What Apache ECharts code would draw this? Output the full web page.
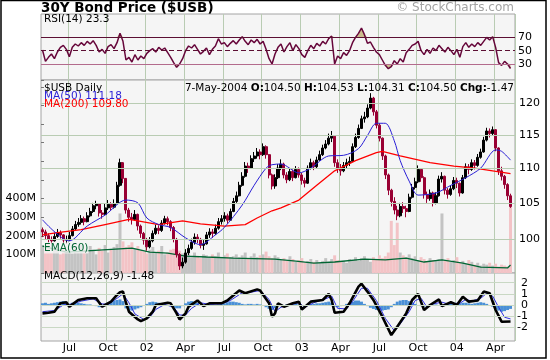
<!DOCTYPE html>
<html><head><meta charset="utf-8">
<script src="https://cdn.jsdelivr.net/npm/echarts@6/dist/echarts.min.js"></script>
<style>html,body{margin:0;padding:0;background:#fff}#c{width:550px;height:360px}</style>
</head><body><div id="c"></div>
<script>
// ---- axis / tick data ----
const firstWeekEnd = [2001, 4, 4];           // Friday 4-May-2001
const categoryCount = 159;                   // 158 weeks of data + 1 blank
const tickWeeks  = [9,22,35,48,61,74,87,100,113,126,139,152];
const tickLabels = ['Jul','Oct','02','Apr','Jul','Oct','03','Apr','Jul','Oct','04','Apr'];
const priceTicks = [100,105,110,115,120];
const rsiLevels  = [70,50,30];
const macdTicks  = [2,1,0,-1,-2];
const volumeTickMax = 400;

// ---- weekly price (close / high / low) ----
const firstOpen = 101.3;
const closes = [
101.0,100.5,100.0,99.8,100.4,100.9,100.6,99.9,100.0,100.5,
101.4,102.0,102.3,102.8,102.4,103.2,103.8,104.6,104.9,103.6,
103.4,104.3,104.8,104.4,104.9,107.5,110.8,108.5,104.0,103.0,
102.7,103.4,101.8,100.8,99.9,99.0,99.8,100.8,101.5,101.2,
102.2,102.8,102.4,101.6,100.0,98.0,96.5,97.0,98.2,98.8,
99.6,100.3,100.0,99.2,99.4,100.6,101.0,100.8,101.5,102.4,
102.8,103.2,102.6,103.8,105.2,106.0,107.5,108.8,110.3,110.0,
111.4,111.8,112.4,112.0,113.2,112.0,109.0,107.4,108.6,110.0,
110.6,109.0,108.3,109.5,108.6,109.8,109.0,108.2,107.8,110.0,
110.8,110.2,111.2,112.0,113.0,113.6,114.5,114.8,110.8,110.0,
109.6,110.4,110.8,111.0,113.2,114.6,116.0,117.5,117.8,119.2,
120.8,118.6,116.5,114.5,111.8,109.0,106.8,105.2,104.0,103.2,
104.5,104.2,103.8,105.8,107.2,108.0,109.8,108.6,106.2,105.6,
106.4,105.0,106.0,108.4,108.8,106.8,106.2,107.0,108.2,107.8,
106.4,108.6,110.2,109.8,110.8,110.4,111.6,112.4,114.2,115.6,
115.2,115.8,113.0,109.6,108.8,107.6,106.0,104.5];
const highs = [
101.6,101.3,100.8,100.4,100.9,101.4,101.2,100.7,100.5,101.0,
101.8,102.5,102.9,103.3,103.1,103.7,104.3,105.0,105.3,104.8,
104.0,104.9,105.4,105.1,105.5,108.0,111.4,110.9,108.4,104.3,
103.6,104.0,103.5,102.0,101.0,100.2,100.3,101.2,102.0,101.9,
102.6,103.2,103.1,102.6,101.8,100.2,98.2,97.6,98.7,99.3,
100.1,100.8,100.7,100.2,99.9,101.0,101.5,101.4,102.0,102.9,
103.3,103.7,103.5,104.2,105.7,106.6,108.0,109.4,110.9,110.8,
111.9,112.4,113.0,112.8,113.7,113.4,112.1,109.2,109.1,110.6,
111.3,110.8,109.4,110.0,109.8,110.3,110.1,109.3,108.6,110.4,
111.4,111.1,111.7,112.6,113.5,114.2,115.2,115.6,114.9,111.3,
110.6,110.9,111.4,111.7,113.7,115.2,116.6,118.0,118.6,119.8,
121.6,121.0,118.9,116.8,114.6,112.0,109.2,107.0,105.8,104.6,
105.0,105.1,104.6,106.3,107.7,108.6,110.4,110.0,108.8,106.6,
106.9,106.6,106.5,108.9,109.4,108.9,107.1,107.5,108.7,108.6,
107.9,109.0,110.7,110.6,111.3,111.2,112.1,112.9,114.7,116.1,
116.0,116.3,115.9,113.1,110.2,109.0,107.8,106.3];
const lows = [
100.3,100.0,99.6,99.4,99.7,100.2,100.1,99.5,99.4,99.8,
100.4,101.2,101.7,102.0,101.9,102.3,103.0,103.6,104.1,103.1,
102.8,103.3,104.0,103.9,104.2,104.8,107.3,107.8,103.5,102.4,
102.0,102.5,101.2,100.2,99.3,98.5,98.8,99.6,100.6,100.7,
101.0,102.0,101.9,101.1,99.6,97.6,96.0,96.2,96.8,97.9,
98.6,99.3,99.5,98.8,98.6,99.3,100.2,100.2,100.6,101.3,
102.0,102.4,102.1,102.5,103.7,105.0,105.9,107.3,108.6,109.3,
109.9,110.9,111.4,111.3,111.8,111.4,108.5,106.9,107.0,108.4,
109.7,108.5,107.8,108.1,108.1,108.5,108.6,107.6,107.2,107.7,
109.8,109.7,110.0,111.1,111.8,112.8,113.4,113.9,110.2,109.3,
108.9,109.4,110.0,110.3,110.9,113.0,114.4,115.9,116.9,117.6,
119.0,118.0,116.0,114.0,111.2,108.4,106.1,104.5,103.4,102.6,
103.0,103.6,103.0,103.7,105.6,106.9,107.8,108.0,105.6,105.0,
105.3,104.5,104.8,105.9,107.9,106.2,105.6,106.0,106.8,107.1,
105.9,106.3,108.4,109.1,109.6,109.8,110.2,111.4,112.3,114.0,
114.6,114.9,112.5,109.0,108.2,107.0,105.4,104.3];

// ---- moving averages [week, value] ----
const ma50 = [[0,102.65],[9,99.8],[15,101.8],[21,103.3],[28,105.4],[32,105.0],[35,102.9],[39,102.0],[43,101.6],[48,100.2],[53,99.3],[58,100.6],[61,101.6],[67,104.7],[71,107.5],[75,110.0],[77,110.5],[80,110.6],[86,109.3],[90,110.0],[96,111.8],[101,111.9],[106,112.9],[109,114.9],[112,116.8],[115,116.8],[118,114.1],[120,111.1],[123,108.1],[126,106.1],[132,106.4],[137,107.5],[142,108.6],[147,110.0],[152,112.7],[154,112.5],[157,111.18]];
const ma200 = [[0,100.6],[5,100.9],[13,101.3],[21,102.0],[29,102.7],[32,102.5],[39,102.0],[47,102.5],[53,102.1],[61,101.8],[68,102.0],[72,102.9],[77,103.9],[80,104.3],[86,105.4],[92,107.5],[98,109.6],[105,111.1],[112,112.3],[114,112.5],[120,111.8],[130,110.8],[138,110.3],[145,110.0],[151,109.6],[157,109.2]];

// ---- volume (millions) ----
const volumes = [
150,125,160,110,140,120,100,135,115,
130,105,140,115,150,120,110,145,125,100,135,
120,150,110,130,140,155,320,
170,140,150,165,130,145,120,
115,105,125,140,110,120,145,100,
110,125,130,140,120,105,95,
100,85,110,90,80,100,95,
85,100,90,110,80,95,105,85,90,
100,85,95,110,80,90,105,85,95,100,115,90,80,95,
85,70,80,65,90,75,60,70,80,55,65,75,60,
70,55,65,80,60,75,95,70,60,65,55,75,70,85,
65,80,90,70,60,85,75,95,80,90,110,280,150,270,
110,95,85,100,80,90,70,85,75,65,80,70,
70,75,320,65,80,
60,70,85,55,65,50,70,60,45,55,40,
50,45,55,40,50,35,45,40,35,360];
const volumeEma = [[0,144],[8,112],[19,123],[30,134],[36,112],[42,107],[48,91],[55,86],[64,80],[78,75],[85,64],[91,53],[98,59],[108,75],[115,70],[122,80],[128,59],[134,70],[141,53],[147,32],[156,27],[157,43]];

// ---- RSI(14) weekly ----
const rsi = [
51,34,40,45,38,48,55,58,52,41,
55,60,57,62,58,64,60,65,58,48,
52,46,56,59,53,62,76,64,36,40,
33,44,36,42,38,46,50,53,48,55,
51,54,47,40,32,25,30,38,50,57,
54,59,52,45,49,54,44,52,57,68,
60,62,56,61,65,60,66,71,64,59,
66,62,67,60,64,52,38,30,45,55,
60,48,56,62,50,59,53,44,40,50,
58,53,61,57,64,60,68,72,30,42,
38,47,43,50,62,70,76,84,74,61,
63,55,48,44,36,28,23,26,35,30,
38,33,47,52,58,60,64,50,44,52,
46,54,50,58,53,48,55,50,44,52,
40,56,62,55,60,56,62,58,64,70,
66,71,55,32,28,34,30,23.3];

// ---- MACD(12,26,9) ----
const macd = [[0,-0.75],[2,-0.7],[4,-0.6],[6,0.15],[8,0.25],[9,-0.15],[12,0.45],[15,0.6],[18,0.6],[20,-0.15],[21,0],[23,0.3],[25,0.9],[26,1.15],[27,1.2],[28,0.2],[29,-0.6],[32,-1.3],[33,-1.45],[35,-1.2],[37,-0.6],[38,0],[42,0.2],[43,0.15],[45,-0.75],[46,-1.3],[48,-0.75],[49,-0.15],[52,0.4],[54,-0.1],[56,0.15],[60,0.15],[62,0.4],[66,1.3],[68,1.05],[72,1.4],[73,1.3],[76,0.15],[77,-1.05],[78,-0.75],[79,0.15],[81,-0.15],[84,0.15],[86,0.3],[87,-0.4],[90,0.3],[94,0.45],[96,1.0],[97,0.45],[98,-0.7],[101,-0.6],[103,0.15],[106,1.65],[107,1.9],[109,1.2],[111,0.45],[114,-1.05],[117,-2.7],[119,-1.95],[122,-0.75],[124,0.45],[126,1.0],[128,-0.45],[130,0],[133,0.5],[134,-0.1],[137,0.25],[139,0],[141,0.75],[143,0.3],[146,0.4],[148,1.2],[150,1.05],[152,-0.45],[154,-1.5],[157,-1.48]];
const signal = [[0,-0.6],[4,-0.5],[7,0.0],[10,0.1],[13,0.35],[17,0.55],[20,0.1],[22,0.05],[25,0.6],[27,1.0],[29,0.2],[31,-0.8],[34,-1.3],[36,-1.1],[38,-0.4],[41,0.05],[44,-0.2],[46,-0.9],[48,-0.9],[50,-0.3],[53,0.2],[56,0.05],[60,0.1],[63,0.4],[67,1.1],[70,1.15],[73,1.3],[76,0.5],[78,-0.6],[80,-0.2],[83,0.0],[86,0.2],[88,-0.2],[91,0.2],[95,0.55],[97,0.8],[99,-0.3],[102,-0.35],[104,0.3],[107,1.5],[109,1.5],[112,0.4],[115,-1.2],[118,-2.3],[120,-1.7],[123,-0.6],[125,0.4],[127,0.6],[129,-0.2],[131,0.1],[134,0.25],[136,0.1],[138,0.15],[140,0.15],[142,0.5],[144,0.35],[147,0.6],[149,1.05],[151,0.8],[153,-0.2],[155,-1.1],[157,-1.25]];
const histogram = [
0.15,0.2,0.1,0.15,0.2,0.25,0.3,0.35,0.2,-0.1,
0.2,0.25,0.2,0.15,0.1,0.05,0.05,0.0,
-0.1,-0.2,-0.05,0.1,0.2,0.3,0.4,0.45,0.5,0.35,
-0.3,-0.45,-0.5,-0.4,-0.3,-0.2,
-0.05,0.1,0.25,0.3,0.25,0.2,0.1,0.05,
0.0,-0.05,-0.2,-0.3,-0.3,-0.1,0.15,0.3,0.35,0.3,0.2,
0.0,-0.1,0.0,0.05,0.05,0.0,
0.05,0.1,0.15,0.25,0.3,0.3,0.25,0.2,
0.1,0.05,0.1,0.1,0.05,0.1,0.05,-0.05,
-0.2,-0.35,-0.45,-0.3,-0.1,
0.05,0.0,0.05,0.1,0.05,0.1,0.05,-0.1,-0.05,0.05,0.1,0.1,0.15,0.15,
0.2,0.25,0.3,0.2,-0.15,-0.2,-0.1,0.0,0.1,
0.2,0.3,0.4,0.4,0.3,0.1,
-0.1,-0.25,-0.35,-0.45,-0.5,-0.5,-0.45,-0.4,-0.2,
0.1,0.3,0.4,0.45,0.45,0.35,0.25,
0.1,0.0,-0.1,-0.15,-0.05,0.0,0.05,
0.05,0.0,-0.05,0.05,0.1,0.15,0.15,0.1,
0.15,0.2,0.2,0.15,0.1,0.15,0.2,0.25,0.2,0.1,
-0.05,-0.15,-0.35,-0.5,-0.6,-0.55,-0.45,-0.35];

// ---- build ----
const FONT = '"DejaVu Sans", Verdana, sans-serif';
const GRID_GREEN = '#b9ccb3';
const categories = [];
for (let i = 0; i < categoryCount; i++) {
  const d = new Date(firstWeekEnd[0], firstWeekEnd[1], firstWeekEnd[2] + 7 * i);
  categories.push(d.toISOString().slice(0, 10));
}
const tickSet = new Set(tickWeeks);
const candles = closes.map((c, i) => [i === 0 ? firstOpen : closes[i - 1], c, lows[i], highs[i]]);
const volumeBars = volumes.map((v, i) => ({
  value: v,
  itemStyle: { color: (i > 0 && closes[i] < closes[i - 1]) ? '#f3c3c6' : '#c3c3c3' }
}));

function xAxisFor(i) {
  return {
    type: 'category', gridIndex: i, data: categories, boundaryGap: true,
    axisLine: { show: false }, axisTick: { show: false },
    axisLabel: {
      show: i === 2, interval: (idx) => tickSet.has(idx),
      formatter: (v, idx) => tickLabels[tickWeeks.indexOf(idx)] || '',
      color: '#000', fontSize: 11, fontFamily: FONT, margin: 2
    },
    splitLine: { show: true, interval: (idx) => tickSet.has(idx), lineStyle: { color: GRID_GREEN, width: 1 } }
  };
}
function levelMarks(items, lineStyle, labelExtra) {
  return {
    silent: true, symbol: ['none', 'none'], animation: false,
    lineStyle: Object.assign({ color: GRID_GREEN, width: 1, type: 'solid' }, lineStyle || {}),
    label: Object.assign({ position: 'end', distance: 4, color: '#000', fontSize: 11, fontFamily: FONT,
      formatter: p => String(p.value) }, labelExtra || {}),
    emphasis: { disabled: true },
    data: items
  };
}
const gridBase = { left: 41, width: 474, show: true, backgroundColor: '#f5f5f5', borderColor: '#a4a4a4', borderWidth: 1 };

const option = {
  animation: false,
  backgroundColor: '#fff',
  grid: [
    Object.assign({ top: 14, height: 66 }, gridBase),
    Object.assign({ top: 80, height: 193 }, gridBase),
    Object.assign({ top: 273, height: 68 }, gridBase)
  ],
  xAxis: [xAxisFor(0), xAxisFor(1), xAxisFor(2)],
  yAxis: [
    { type: 'value', gridIndex: 0, min: 6, max: 105, show: false },
    { type: 'log', gridIndex: 1, min: 95.6, max: 123.76, logBase: 10, show: false },
    { type: 'value', gridIndex: 1, min: 0, max: 1037, interval: 100, position: 'left',
      axisLine: { show: false }, splitLine: { show: false },
      axisTick: { show: true, inside: true, length: 3, lineStyle: { color: '#777' } },
      axisLabel: { formatter: v => (v > 0 && v <= volumeTickMax) ? v + 'M' : '', color: '#000', fontSize: 11, fontFamily: FONT, margin: 5 } },
    { type: 'value', gridIndex: 2, min: -3.23, max: 2.87, show: false }
  ],
  series: [
    // RSI panel
    { type: 'line', xAxisIndex: 0, yAxisIndex: 0, data: [], z: 1,
      markLine: levelMarks(rsiLevels.map(v => ({ yAxis: v, lineStyle: {
        color: v === 30 ? '#b36b8c' : '#5c0f33', width: 1, type: v === 50 ? [5, 3] : 'solid' } })), {}, { distance: 3 }) },
    { type: 'line', xAxisIndex: 0, yAxisIndex: 0, data: rsi.map(v => Math.max(v, 70)), showSymbol: false, z: 2,
      lineStyle: { width: 0 }, areaStyle: { origin: 70, color: '#cbbd8e', opacity: 1 } },
    { type: 'line', xAxisIndex: 0, yAxisIndex: 0, data: rsi.map(v => Math.min(v, 30)), showSymbol: false, z: 2,
      lineStyle: { width: 0 }, areaStyle: { origin: 30, color: '#cbbd8e', opacity: 1 } },
    { type: 'line', xAxisIndex: 0, yAxisIndex: 0, data: rsi, showSymbol: false, z: 3,
      lineStyle: { color: '#66063a', width: 1.5 } },
    // price panel
    { type: 'line', xAxisIndex: 1, yAxisIndex: 1, data: [], z: 1,
      markLine: levelMarks(priceTicks.map(v => ({ yAxis: v })), {}, {}) },
    { type: 'bar', xAxisIndex: 1, yAxisIndex: 2, data: volumeBars, barCategoryGap: '0%', z: 1.5 },
    { type: 'line', xAxisIndex: 1, yAxisIndex: 2, data: volumeEma, showSymbol: false, z: 2,
      lineStyle: { color: '#006633', width: 1.3 } },
    { type: 'candlestick', xAxisIndex: 1, yAxisIndex: 1, data: candles, barWidth: '85%', z: 3,
      itemStyle: { color: '#000000', color0: '#990033', borderColor: '#000000', borderColor0: '#990033', borderWidth: 1 } },
    { type: 'line', xAxisIndex: 1, yAxisIndex: 1, data: ma200, showSymbol: false, z: 4,
      lineStyle: { color: '#ff0000', width: 1.3 } },
    { type: 'line', xAxisIndex: 1, yAxisIndex: 1, data: ma50, showSymbol: false, z: 4, smooth: 0.3,
      lineStyle: { color: '#2a1fd6', width: 1 } },
    // MACD panel
    { type: 'line', xAxisIndex: 2, yAxisIndex: 3, data: [], z: 1,
      markLine: levelMarks(macdTicks.map(v => ({ yAxis: v })), { color: '#c9d8c4' }, { align: 'right', distance: 13 }) },
    { type: 'bar', xAxisIndex: 2, yAxisIndex: 3, data: histogram, barCategoryGap: '0%', z: 2,
      itemStyle: { color: '#4a90d6' } },
    { type: 'line', xAxisIndex: 2, yAxisIndex: 3, data: signal, showSymbol: false, z: 3,
      lineStyle: { color: '#3030e0', width: 1 } },
    { type: 'line', xAxisIndex: 2, yAxisIndex: 3, data: macd, showSymbol: false, z: 4,
      lineStyle: { color: '#000', width: 2.6 } }
  ],
  graphic: [
    { type: 'rect', silent: true, z: 20, shape: { x: 1, y: 0.5, width: 545, height: 357.5 },
      style: { fill: null, stroke: '#000', lineWidth: 1.5 } },
    { type: 'text', silent: true, style: { x: 41, y: 8, text: '30Y Bond Price ($USB)', font: 'bold 13.5px ' + FONT, fill: '#000', verticalAlign: 'middle' } },
    { type: 'text', silent: true, style: { x: 514, y: 8, text: '\u00a9 StockCharts.com', font: '12px ' + FONT, fill: '#a3a3a3', align: 'right', verticalAlign: 'middle' } },
    { type: 'text', silent: true, z: 10, style: { x: 44, y: 19, text: 'RSI(14) 23.3', font: '10.5px ' + FONT, fill: '#000', verticalAlign: 'middle' } },
    { type: 'text', silent: true, z: 10, style: { x: 44, y: 88, text: '$USB Daily', font: '10.5px ' + FONT, fill: '#000', verticalAlign: 'middle' } },
    { type: 'text', silent: true, z: 10, style: { x: 44, y: 96, text: 'MA(50) 111.18', font: '10.5px ' + FONT, fill: '#2a1fd6', verticalAlign: 'middle' } },
    { type: 'text', silent: true, z: 10, style: { x: 44, y: 104.5, text: 'MA(200) 109.80', font: '10.5px ' + FONT, fill: '#ff0000', verticalAlign: 'middle' } },
    { type: 'text', silent: true, z: 10, style: { x: 514, y: 88,
      text: '7-May-2004 {b|O:}104.50 {b|H:}104.53 {b|L:}104.31 {b|C:}104.50 {b|Chg:}-1.47',
      font: '10.5px ' + FONT, fill: '#000', align: 'right', verticalAlign: 'middle',
      rich: { b: { fontWeight: 'bold', fontSize: 10.5, fontFamily: FONT } } } },
    { type: 'text', silent: true, z: 10, style: { x: 44, y: 248, text: 'EMA(60)', font: '10.5px ' + FONT, fill: '#006633', verticalAlign: 'middle', backgroundColor: 'rgba(245,245,245,0.8)' } },
    { type: 'text', silent: true, z: 10, style: { x: 44, y: 276, text: 'MACD(12,26,9) -1.48', font: '10.5px ' + FONT, fill: '#000', verticalAlign: 'middle' } }
  ]
};
const chart = echarts.init(document.getElementById('c'), null, { renderer: 'canvas' });
chart.setOption(option);
</script></body></html>
